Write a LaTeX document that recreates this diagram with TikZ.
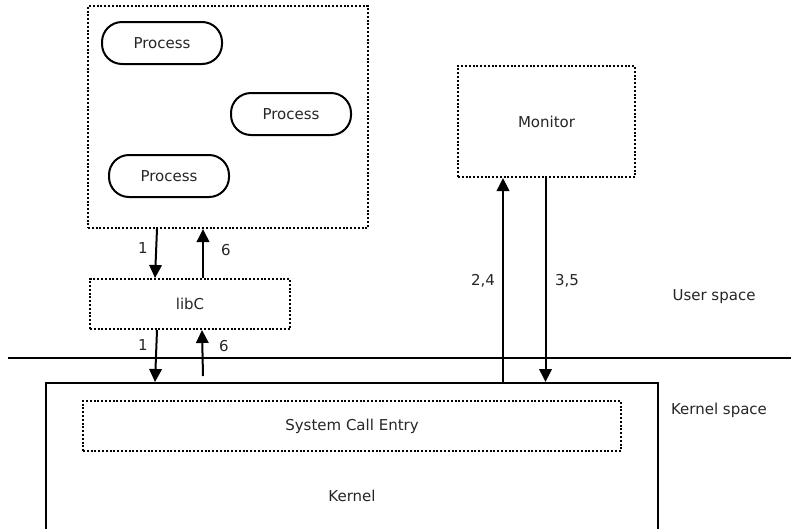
\documentclass[tikz,border=0pt]{standalone}
\usepackage{fontspec}
\setmainfont{DejaVu Sans}
\usetikzlibrary{arrows.meta}
\begin{document}
\begin{tikzpicture}[x=1pt,y=-1pt,
  every node/.style={font=\fontsize{15}{17}\selectfont, text=black!85, inner sep=0pt},
  dotbox/.style={draw, line width=2pt, dash pattern=on 2pt off 1.8pt},
  pill/.style={draw, line width=2pt, rounded corners=20pt, minimum width=120pt, minimum height=42pt},
  solidbox/.style={draw, line width=2pt},
  arr/.style={line width=2pt, -{Triangle[length=13pt,width=12.5pt]}}]
\clip (0,0) rectangle (791,528);
\fill[white] (0,0) rectangle (791,528);
% container of processes
\node[dotbox, minimum width=280pt, minimum height=222pt] (cont) at (228,117) {};
\node[pill] (p1) at (162,43) {Process};
\node[pill] (p2) at (291,114) {Process};
\node[pill] (p3) at (169,176) {Process};
% libC
\node[dotbox, minimum width=200pt, minimum height=50pt] (libc) at (190,304) {libC};
% monitor
\node[dotbox, minimum width=177pt, minimum height=111pt] (mon) at (546.5,121.5) {Monitor};
% kernel
\node[solidbox, minimum width=612pt, minimum height=226pt] (kern) at (352,496) {Kernel};
\node[dotbox, minimum width=538pt, minimum height=50pt] (sce) at (352,426) {System Call Entry};
% separator
\coordinate (sepL) at (8,357.5);
\coordinate (sepR) at (791,357.5);
\draw[line width=2pt] (sepL) -- (sepR);
% arrows process <-> libC
\draw[arr] ([xshift=70pt]cont.south west) -- ([xshift=66pt]libc.north west);
\draw[arr] ([xshift=114pt]libc.north west) -- ([xshift=116pt]cont.south west);
\node at (143,248) {1};
\node at (226,250) {6};
% arrows libC <-> kernel
\draw[arr] ([xshift=68pt]libc.south west) -- ([xshift=110pt]kern.north west);
\coordinate (k6) at (203,376);
\draw[arr] (k6) -- ([xshift=113pt]libc.south west);
\node at (143,345) {1};
\node at (224,346) {6};
% arrows kernel <-> monitor
\draw[arr] ([xshift=458pt]kern.north west) -- ([xshift=46pt]mon.south west);
\draw[arr] ([xshift=88.5pt]mon.south west) -- ([xshift=500.5pt]kern.north west);
\node at (483,281) {2,4};
\node at (567,281) {3,5};
% region labels
\node at (714,297) {User space};
\node at (719,410) {Kernel space};
\end{tikzpicture}
\end{document}
